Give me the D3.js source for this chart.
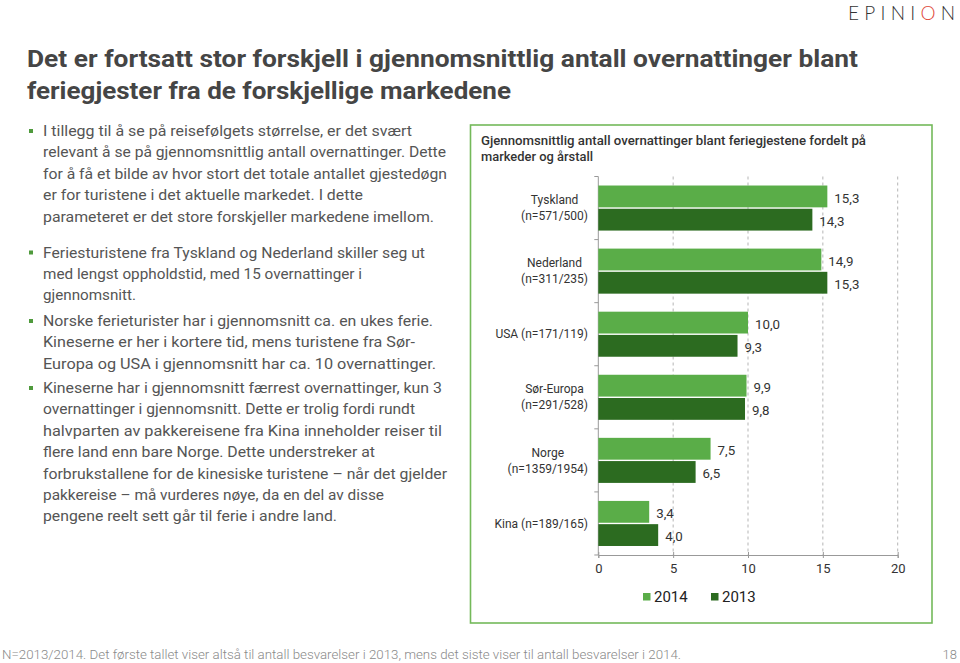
<!DOCTYPE html>
<html><head><meta charset="utf-8">
<script src="https://cdn.jsdelivr.net/npm/d3@7/dist/d3.min.js"></script>
<style>
html,body{margin:0;padding:0;background:#fff;}
svg{display:block;}
</style></head>
<body>
<svg id="c" width="960" height="663"></svg>
<script>
const categories = ["Tyskland (n=571/500)", "Nederland (n=311/235)", "USA (n=171/119)", "Sør-Europa (n=291/528)", "Norge (n=1359/1954)", "Kina (n=189/165)"];
const categoryLines = [["Tyskland", "(n=571/500)"], ["Nederland", "(n=311/235)"], ["USA (n=171/119)"], ["Sør-Europa", "(n=291/528)"], ["Norge", "(n=1359/1954)"], ["Kina (n=189/165)"]];
const values2014 = [15.3, 14.9, 10.0, 9.9, 7.5, 3.4];
const values2013 = [14.3, 15.3, 9.3, 9.8, 6.5, 4.0];
const years = ["2014", "2013"];
const yearColors = ["#5aad48", "#2c6b20"];
const xTicks = [0, 5, 10, 15, 20];

const titleLines = ["Det er fortsatt stor forskjell i gjennomsnittlig antall overnattinger blant", "feriegjester fra de forskjellige markedene"];
const chartTitleLines = ["Gjennomsnittlig antall overnattinger blant feriegjestene fordelt på", "markeder og årstall"];
const bullets = [
  ["I tillegg til å se på reisefølgets størrelse, er det svært", "relevant å se på gjennomsnittlig antall overnattinger. Dette", "for å få et bilde av hvor stort det totale antallet gjestedøgn", "er for turistene i det aktuelle markedet.  I dette", "parameteret er det store forskjeller markedene imellom."],
  ["Feriesturistene fra Tyskland og Nederland skiller seg ut", "med lengst oppholdstid, med 15 overnattinger i", "gjennomsnitt."],
  ["Norske ferieturister har i gjennomsnitt ca. en ukes ferie.", "Kineserne er her i kortere tid, mens turistene fra Sør-", "Europa og USA i gjennomsnitt har ca. 10 overnattinger."],
  ["Kineserne har i gjennomsnitt færrest overnattinger, kun 3", "overnattinger i gjennomsnitt. Dette er trolig fordi rundt", "halvparten av pakkereisene fra Kina inneholder reiser til", "flere land enn bare Norge. Dette understreker at", "forbrukstallene for de kinesiske turistene – når det gjelder", "pakkereise – må vurderes nøye, da en del av disse", "pengene reelt sett går til ferie i andre land."]
];
const footnote = "N=2013/2014. Det første tallet viser altså til antall besvarelser i 2013, mens det siste viser til antall besvarelser i 2014.";
const pageNumber = "18";

// measured line end positions of the text block (layout only)
const bulletLineEnds = [
  [412, 446, 447, 363, 434],
  [425, 362, 136],
  [433, 415, 436],
  [442, 415, 442, 375, 447, 384, 337]
];

const svg = d3.select("#c");
const FONT = "Roboto, 'Open Sans', sans-serif";

// Logo
const logo = svg.append("text").attr("x", 848).attr("y", 20)
  .attr("font-family", "Lato, " + FONT).attr("font-weight", 300)
  .attr("font-size", 19).attr("fill", "#333")
  .attr("textLength", 107).attr("lengthAdjust", "spacing");
logo.append("tspan").text("EPINI");
logo.append("tspan").attr("fill", "#e04a3c").text("O");
logo.append("tspan").text("N");

// Title
const titleWidths = [831, 484];
svg.append("g").selectAll("text").data(titleLines).join("text")
  .attr("x", 27).attr("y", (d, i) => 67 + i * 32)
  .attr("font-family", FONT).attr("font-weight", 700).attr("font-size", 23)
  .attr("fill", "#454545")
  .attr("textLength", (d, i) => titleWidths[i]).attr("lengthAdjust", "spacingAndGlyphs")
  .text(d => d);

// Bullets
const bulletStarts = [131, 252.5, 321, 388];
const lineH = 21.4;
const bg = svg.append("g").attr("font-family", FONT).attr("font-size", 15.3).attr("fill", "#555");
bullets.forEach((para, pi) => {
  const by = bulletStarts[pi];
  bg.append("rect").attr("x", 29).attr("y", by - 2).attr("width", 4).attr("height", 4).attr("fill", "#4f9a3c");
  para.forEach((ln, li) => {
    bg.append("text").attr("x", 43).attr("y", by + li * lineH + 5)
      .attr("textLength", bulletLineEnds[pi][li] - 43).attr("lengthAdjust", "spacingAndGlyphs")
      .text(ln);
  });
});

// Chart box
svg.append("rect").attr("x", 470.5).attr("y", 125).attr("width", 461.5).attr("height", 498)
  .attr("fill", "none").attr("stroke", "#74b95a").attr("stroke-width", 1.6);

const chartTitleWidths = [385, 112];
svg.append("g").selectAll("text").data(chartTitleLines).join("text")
  .attr("x", 481).attr("y", (d, i) => 144.5 + i * 16)
  .attr("font-family", FONT).attr("font-weight", 500).attr("font-size", 12.5).attr("fill", "#333")
  .attr("textLength", (d, i) => chartTitleWidths[i]).attr("lengthAdjust", "spacingAndGlyphs")
  .text(d => d);

// Scales
const x = d3.scaleLinear().domain([0, 20]).range([598.3, 897.7]);
const y0 = d3.scaleBand().domain(categories).range([176.5, 555])
  .paddingInner(0.2857).paddingOuter(0.1429);
const y1 = d3.scaleBand().domain(years).range([0, y0.bandwidth()]).paddingInner(0.06);

const bandStep = y0.step();
const plotTop = y0.range()[0], plotBottom = y0.range()[1];

// Gridlines
svg.append("g").selectAll("line").data(xTicks.filter(t => t > 0)).join("line")
  .attr("x1", d => x(d)).attr("x2", d => x(d)).attr("y1", plotTop).attr("y2", plotBottom)
  .attr("stroke", "#b5b5b5").attr("stroke-width", 1).attr("stroke-dasharray", "3,3");

// Left axis line + boundary ticks
svg.append("line").attr("x1", x(0)).attr("x2", x(0)).attr("y1", plotTop).attr("y2", plotBottom)
  .attr("stroke", "#999").attr("stroke-width", 1);
svg.append("g").selectAll("line").data(d3.range(categories.length + 1)).join("line")
  .attr("x1", x(0) - 4).attr("x2", x(0)).attr("y1", i => plotTop + i * bandStep).attr("y2", i => plotTop + i * bandStep)
  .attr("stroke", "#999");

// Bottom axis
const xAxis = d3.axisBottom(x).tickValues(xTicks).tickSize(3).tickPadding(6).tickFormat(d3.format("d"));
const ax = svg.append("g").attr("transform", `translate(0,${plotBottom})`).call(xAxis);
ax.select(".domain").attr("stroke", "#999");
ax.selectAll(".tick line").attr("stroke", "#999").attr("y1", -3).attr("y2", 3);
ax.selectAll(".tick text").attr("font-family", FONT).attr("font-size", 13).attr("fill", "#333");

// Bars
const rows = categories.map((c, i) => ({ cat: c, vals: [values2014[i], values2013[i]] }));
const fmt = v => d3.format(".1f")(v).replace(".", ",");
const groups = svg.append("g").selectAll("g").data(rows).join("g")
  .attr("transform", d => `translate(0,${y0(d.cat)})`);
groups.selectAll("rect").data(d => d.vals.map((v, j) => ({ v, year: years[j], j }))).join("rect")
  .attr("x", x(0)).attr("y", d => y1(d.year)).attr("width", d => x(d.v) - x(0))
  .attr("height", y1.bandwidth()).attr("fill", d => yearColors[d.j]);
groups.selectAll("text").data(d => d.vals.map((v, j) => ({ v, year: years[j], j }))).join("text")
  .attr("x", d => x(d.v) + 7).attr("y", d => y1(d.year) + y1.bandwidth() / 2 + 1.5)
  .attr("dy", "0.35em").attr("font-family", FONT).attr("font-size", 13.3).attr("fill", "#333")
  .text(d => fmt(d.v));

// Category labels
const labG = svg.append("g").attr("font-family", FONT).attr("font-size", 12).attr("fill", "#333");
categories.forEach((c, i) => {
  const lines = categoryLines[i];
  const cy = y0(c) + y0.bandwidth() / 2;
  const g = labG.append("g");
  const ts = lines.map((ln, k) => g.append("text")
    .attr("y", cy + (k - (lines.length - 1) / 2) * 16).attr("dy", "0.35em")
    .attr("text-anchor", "middle").text(ln));
  const maxW = d3.max(ts, t => t.node().getComputedTextLength());
  ts.forEach(t => t.attr("x", 588 - maxW / 2));
});

// Legend
const lg = svg.append("g").attr("font-family", FONT).attr("font-size", 15).attr("fill", "#222");
const legX = [643, 711];
years.forEach((yr, j) => {
  lg.append("rect").attr("x", legX[j]).attr("y", 593).attr("width", 7.5).attr("height", 7.5).attr("fill", yearColors[j]);
  lg.append("text").attr("x", legX[j] + 11).attr("y", 597).attr("dy", "0.35em").text(yr);
});

// Footer
svg.append("text").attr("x", 2).attr("y", 659).attr("font-family", FONT).attr("font-weight", 300)
  .attr("font-size", 12.5).attr("fill", "#8a8a8a")
  .attr("textLength", 679).attr("lengthAdjust", "spacingAndGlyphs").text(footnote);
svg.append("text").attr("x", 957).attr("y", 659).attr("text-anchor", "end").attr("font-family", FONT)
  .attr("font-weight", 300).attr("font-size", 13).attr("fill", "#8a8a8a").text(pageNumber);
</script>
</body></html>
